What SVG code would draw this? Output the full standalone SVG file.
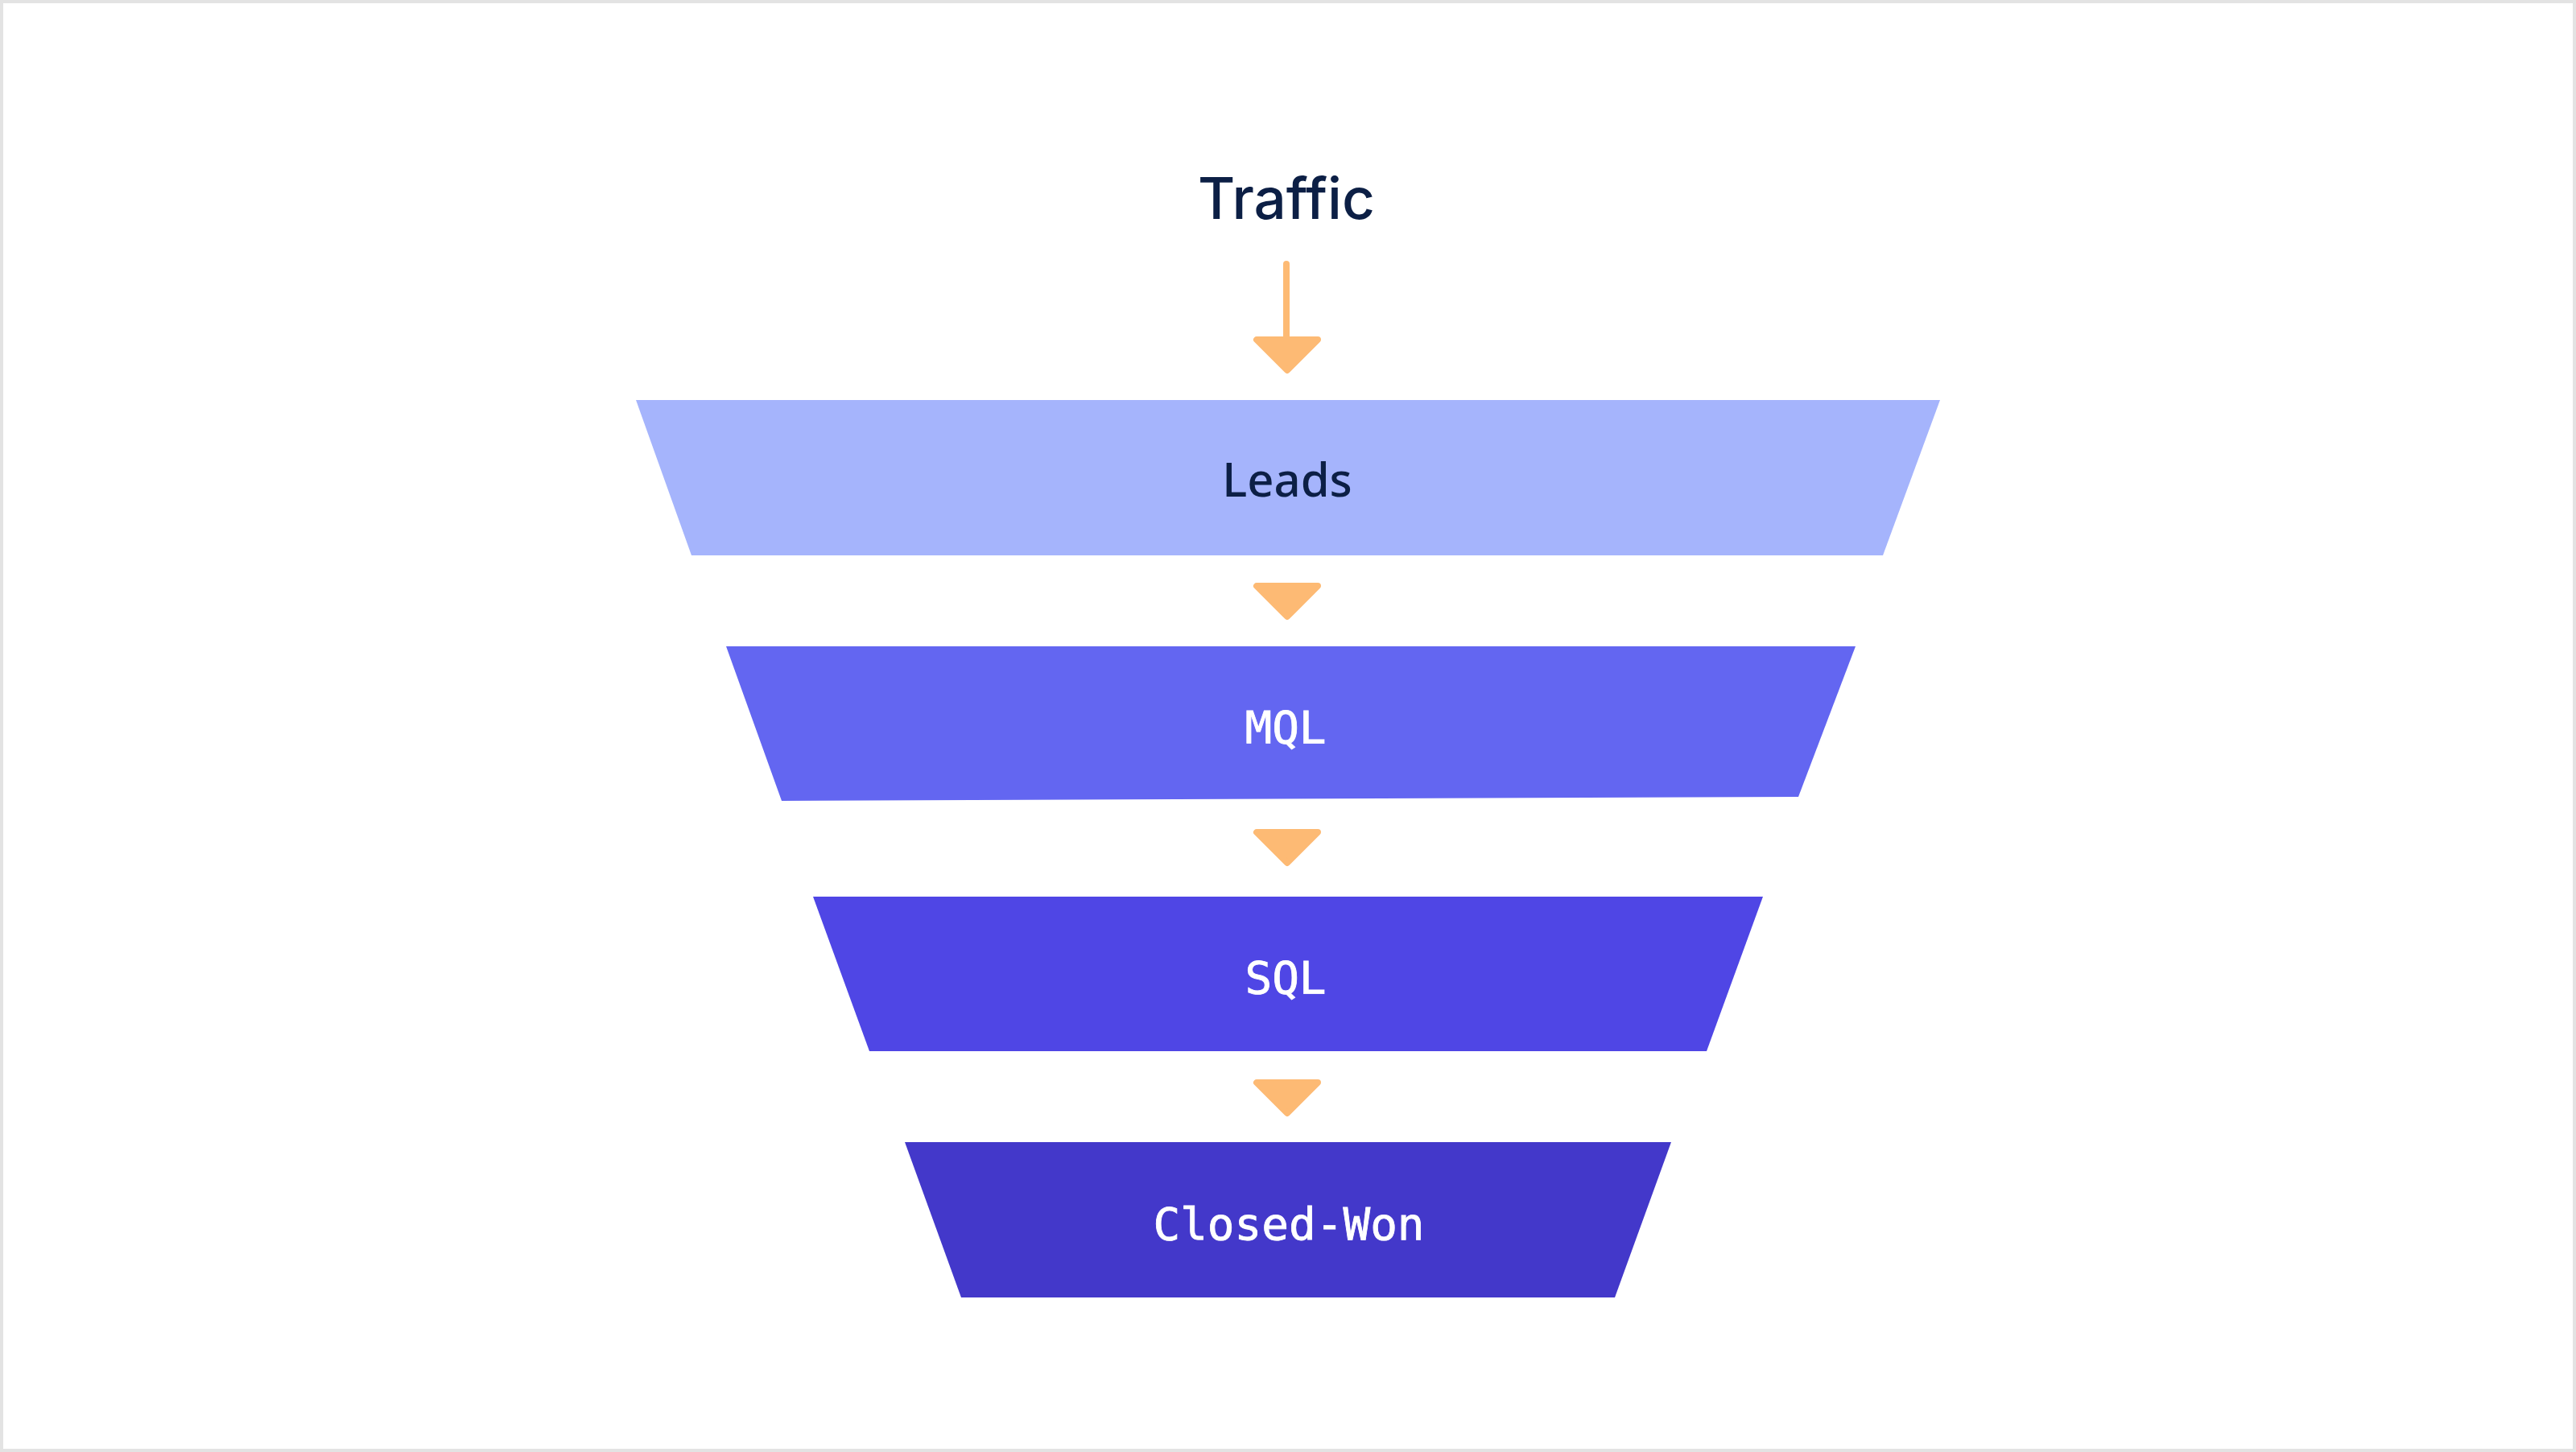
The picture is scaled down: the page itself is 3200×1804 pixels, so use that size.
<svg xmlns="http://www.w3.org/2000/svg" width="3200" height="1804" viewBox="0 0 3200 1804">
  <style>
    .title { font-family: Inter, "Noto Sans", "DejaVu Sans", sans-serif; font-weight: 500; font-size: 71px; fill: #0C1F45; }
    .lead { font-family: "Noto Sans", Inter, "DejaVu Sans", sans-serif; font-weight: 500; font-size: 58px; fill: #0C1F45; }
    .mono { font-family: "DejaVu Sans Mono", "Liberation Mono", monospace; font-size: 56px; fill: #FFFFFF; stroke: #FFFFFF; stroke-width: 0.8; }
    .head { fill: #FDBA74; stroke: #FDBA74; stroke-width: 8; stroke-linejoin: round; }
    .shaft { stroke: #FDBA74; stroke-width: 8; stroke-linecap: round; fill: none; }
  </style>
  <defs>
    <polygon id="arrowhead" class="head" points="-38,4 38,4 0,42"/>
  </defs>
  <rect x="0" y="0" width="3200" height="1804" fill="#FFFFFF"/>
  <rect x="2" y="2" width="3196" height="1800" fill="none" stroke="#E3E3E3" stroke-width="4"/>

  <g id="connectors">
    <line class="shaft" x1="1598" y1="328" x2="1598" y2="422"/>
    <use href="#arrowhead" transform="translate(1599,418)"/>
    <use href="#arrowhead" transform="translate(1599,724)"/>
    <use href="#arrowhead" transform="translate(1599,1030)"/>
    <use href="#arrowhead" transform="translate(1599,1341)"/>
  </g>

  <g id="node-traffic">
    <text class="title" x="1598" y="272" text-anchor="middle">Traffic</text>
  </g>

  <g id="node-leads">
    <polygon points="790,497 2410,497 2339,690 859,690" fill="#A5B4FC"/>
    <text class="lead" x="1599" y="617" text-anchor="middle">Leads</text>
  </g>

  <g id="node-mql">
    <polygon points="902,803 2305,803 2234,990 971,995" fill="#6366F1"/>
    <text class="mono" x="1597" y="923" text-anchor="middle">MQL</text>
  </g>

  <g id="node-sql">
    <polygon points="1010,1114 2190,1114 2120,1306 1080,1306" fill="#4F46E5"/>
    <text class="mono" x="1597" y="1234" text-anchor="middle">SQL</text>
  </g>

  <g id="node-closed-won">
    <polygon points="1124,1419 2076,1419 2006,1612 1194,1612" fill="#4338CA"/>
    <text class="mono" x="1601" y="1540" text-anchor="middle">Closed-Won</text>
  </g>
</svg>
